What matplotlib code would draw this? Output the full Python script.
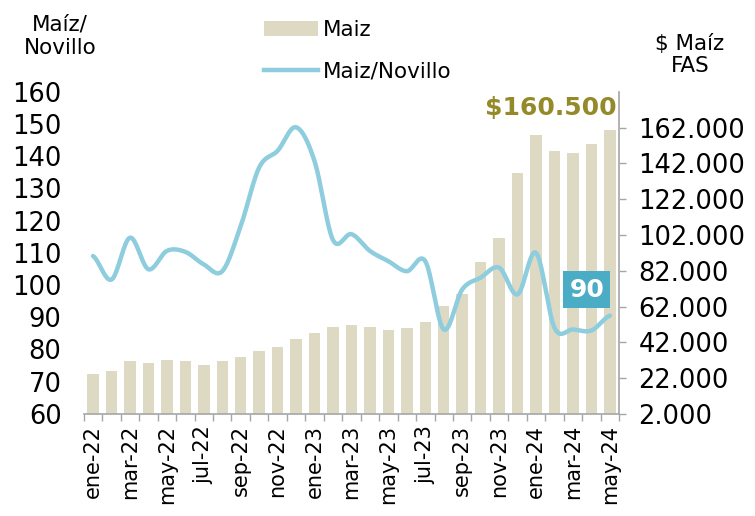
import numpy as np
import matplotlib.pyplot as plt
from matplotlib.patches import Patch
from matplotlib.lines import Line2D

plt.rcParams['font.family'] = ['DejaVu Sans']

# monthly data, ene-22 .. may-24
meses = ['ene-22', 'feb-22', 'mar-22', 'abr-22', 'may-22', 'jun-22', 'jul-22', 'ago-22',
         'sep-22', 'oct-22', 'nov-22', 'dic-22', 'ene-23', 'feb-23', 'mar-23', 'abr-23',
         'may-23', 'jun-23', 'jul-23', 'ago-23', 'sep-23', 'oct-23', 'nov-23', 'dic-23',
         'ene-24', 'feb-24', 'mar-24', 'abr-24', 'may-24']
maiz = [24100, 25800, 31300, 30200, 32000, 31300, 29500, 31300, 33900, 37400,
        39300, 43700, 47000, 50700, 51400, 50700, 49000, 49800, 53500, 62200,
        69200, 86900, 100200, 136500, 157700, 148700, 147800, 153100, 160500]
ratio = [109.0, 101.7, 114.7, 104.9, 110.6, 110.3, 106.4, 104.3, 118.3, 136.5,
         141.7, 149.0, 138.5, 114.0, 115.8, 110.6, 107.4, 104.3, 107.4, 86.2,
         98.6, 102.3, 105.4, 97.1, 110.0, 86.7, 86.2, 85.9, 90.5]

bar_color = '#DDD9C3'
line_color = '#8ECDDE'
gray = '#A6A6A6'


def smooth(y, n=20):
    # Catmull-Rom curve through the monthly points (like Excel's smoothed line)
    p = np.concatenate([[y[0]], y, [y[-1]]])
    xs, ys = [], []
    for i in range(len(y) - 1):
        t = np.linspace(0, 1, n, endpoint=False)
        p0, p1, p2, p3 = p[i], p[i + 1], p[i + 2], p[i + 3]
        yy = 0.5 * ((2 * p1) + (-p0 + p2) * t + (2 * p0 - 5 * p1 + 4 * p2 - p3) * t ** 2
                    + (-p0 + 3 * p1 - 3 * p2 + p3) * t ** 3)
        xs.append(i + t)
        ys.append(yy)
    xs.append([len(y) - 1])
    ys.append([y[-1]])
    return np.concatenate(xs), np.concatenate(ys)


fig = plt.figure(figsize=(7.55, 5.16), dpi=100)
ax = fig.add_axes([0.111, 0.198, 0.709, 0.624])
ax2 = ax.twinx()

x = np.arange(len(meses))
ax2.bar(x, maiz, width=0.62, color=bar_color, zorder=1)
sx, sy = smooth(np.array(ratio))
ax.plot(sx, sy, color=line_color, lw=3.2, solid_capstyle='round', zorder=3)

ax.set_zorder(ax2.get_zorder() + 1)
ax.patch.set_visible(False)

ax.set_xlim(-0.5, len(meses) - 0.5)
ax.set_ylim(60, 160)
ax2.set_ylim(2000, 182000)

ax.set_yticks(np.arange(60, 161, 10))
ax2.set_yticks(np.arange(2000, 162001, 20000))
ax2.set_yticklabels([f'{v:,}'.replace(',', '.') for v in range(2000, 162001, 20000)])

ax.set_xticks(x[::2])
ax.set_xticklabels(meses[::2], rotation=90)
ax.set_xticks(np.arange(-0.5, len(meses), 1), minor=True)
ax.tick_params(axis='x', which='major', length=0, pad=8, labelsize=15)
ax.tick_params(axis='x', which='minor', length=5, color=gray, width=1)
ax.tick_params(axis='y', length=0, pad=16, labelsize=18.5)
ax2.tick_params(axis='y', length=5, color=gray, width=1, pad=9, labelsize=18.5)

for a in (ax, ax2):
    for s in ('top', 'left'):
        a.spines[s].set_visible(False)
ax.spines['right'].set_visible(False)
ax2.spines['bottom'].set_visible(False)
ax.spines['bottom'].set_color(gray)
ax.spines['bottom'].set_linewidth(1.2)
ax2.spines['right'].set_color(gray)
ax2.spines['right'].set_linewidth(1.2)

# axis titles
fig.text(60 / 755, 1 - 36 / 516, 'Maíz/\nNovillo', ha='center', va='center',
         fontsize=15.5, linespacing=1.2)
fig.text(690 / 755, 1 - 55 / 516, '$ Maíz\nFAS', ha='center', va='center',
         fontsize=15.5, linespacing=1.1)

# legend
handles = [Patch(facecolor=bar_color, edgecolor='none'),
           Line2D([0], [0], color=line_color, lw=3.2)]
fig.legend(handles, ['Maiz', 'Maiz/Novillo'], loc='upper left',
           bbox_to_anchor=(245 / 755, 1 - 1 / 516), frameon=False, fontsize=15.5,
           handlelength=2.5, handletextpad=0.2, labelspacing=1.0)

# labels for the last values
ax2.text(x[-1] + 0.35, 166500, '$160.500', ha='right', va='bottom',
         color='#948A2A', fontsize=18, fontweight='bold')
ax.text(26.75, 98.6, f'{round(ratio[-1])}', ha='center', va='center', color='white',
        fontsize=18, fontweight='bold',
        bbox=dict(boxstyle='square,pad=0.25', facecolor='#4BACC6', edgecolor='none'))

fig.savefig('out.png', dpi=100)
